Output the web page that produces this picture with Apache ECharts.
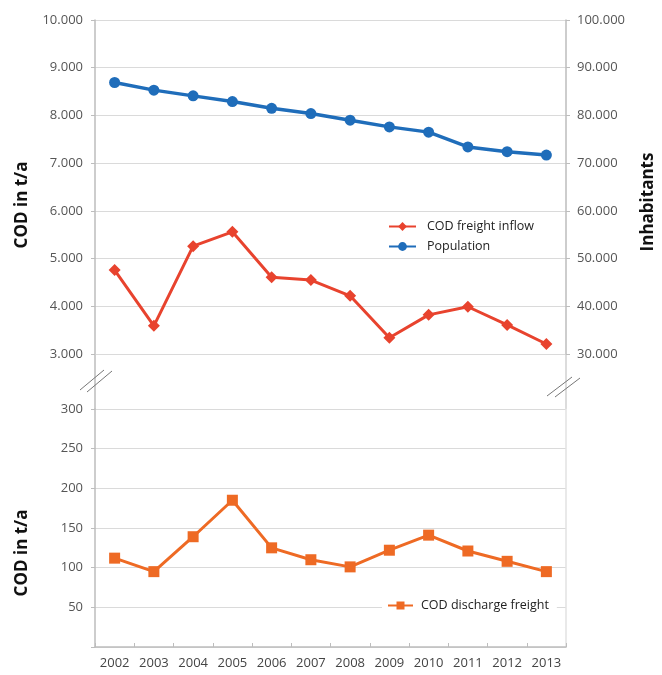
<!DOCTYPE html>
<html>
<head>
<meta charset="utf-8">
<script src="https://cdn.jsdelivr.net/npm/echarts@6/dist/echarts.min.js"></script>
<style>
html,body{margin:0;padding:0;background:#fff;}
#c{width:662px;height:675px;}
</style>
</head>
<body>
<div id="c"></div>
<script>
const years = ['2002','2003','2004','2005','2006','2007','2008','2009','2010','2011','2012','2013'];
const codInflow = [4760, 3590, 5260, 5560, 4610, 4550, 4220, 3340, 3820, 3990, 3610, 3210];
const population = [86900, 85300, 84100, 82900, 81500, 80400, 79000, 77600, 76500, 73400, 72400, 71700];
const codDischarge = [112, 95, 139, 185, 125, 110, 101, 122, 141, 121, 108, 95];
const leftTitle = 'COD in t/a';
const rightTitle = 'Inhabitants';

const FONT = '"Open Sans", "Liberation Sans", sans-serif';
const RED = '#E8432E', BLUE = '#1F6DBA', ORANGE = '#EE6A24';
const AXIS = '#bdbdbd', GRID = '#dadada', LABEL = '#555';

function fmt(v){ return String(v).replace(/\B(?=(\d{3})+(?!\d))/g, '.'); }

const chart = echarts.init(document.getElementById('c'), null, {renderer:'canvas'});

const labelStyle = {color: LABEL, fontSize: 13, fontFamily: FONT};

chart.setOption({
  backgroundColor: '#fff',
  animation: false,
  grid: [
    {left: 95, right: 96, top: 20, height: 334},
    {left: 95, right: 96, top: 409, height: 238}
  ],
  xAxis: [
    {type: 'category', gridIndex: 0, data: years, boundaryGap: true, show: false},
    {type: 'category', gridIndex: 1, data: years, boundaryGap: true,
     axisLine: {lineStyle: {color: AXIS, width: 1.5}},
     axisTick: {show: true, inside: true, length: 4, lineStyle: {color: AXIS}},
     axisLabel: Object.assign({margin: 10, color: '#444'}, {fontSize: 13, fontFamily: FONT})}
  ],
  yAxis: [
    {type: 'value', gridIndex: 0, position: 'left', min: 3000, max: 10000, interval: 1000,
     axisLine: {show: true, lineStyle: {color: AXIS, width: 1.5}},
     axisTick: {show: true, length: 4, lineStyle: {color: AXIS}},
     splitLine: {show: true, lineStyle: {color: GRID, width: 1}},
     axisLabel: Object.assign({margin: 12, formatter: fmt}, labelStyle)},
    {type: 'value', gridIndex: 0, position: 'right', min: 30000, max: 100000, interval: 10000,
     axisLine: {show: true, lineStyle: {color: AXIS, width: 1.5}},
     axisTick: {show: true, length: 4, lineStyle: {color: AXIS}},
     splitLine: {show: false},
     axisLabel: Object.assign({margin: 11, formatter: fmt}, labelStyle)},
    {type: 'value', gridIndex: 1, position: 'left', min: 0, max: 300, interval: 50,
     axisLine: {show: true, lineStyle: {color: AXIS, width: 1.5}},
     axisTick: {show: true, length: 4, lineStyle: {color: AXIS}},
     splitLine: {show: true, lineStyle: {color: GRID, width: 1}},
     axisLabel: Object.assign({margin: 12, formatter: v => v === 0 ? '' : String(v)}, labelStyle)},
    {type: 'value', gridIndex: 1, position: 'right', min: 0, max: 300, interval: 50,
     axisLine: {show: true, lineStyle: {color: '#e2e2e2', width: 1.5}},
     axisTick: {show: false}, axisLabel: {show: false}, splitLine: {show: false}}
  ],
  legend: [
    {orient: 'vertical', left: 383, top: 216, itemWidth: 27, itemHeight: 11, itemGap: 7,
     backgroundColor: '#fff', padding: [4, 8, 4, 5],
     textStyle: {color: '#222', fontSize: 12.5, fontFamily: FONT, padding: [0, 0, 0, 6]},
     data: ['COD freight inflow', 'Population']},
    {orient: 'vertical', left: 382, top: 595, itemWidth: 25, itemHeight: 10,
     backgroundColor: '#fff', padding: [4, 8, 4, 5],
     textStyle: {color: '#222', fontSize: 12.5, fontFamily: FONT, padding: [0, 0, 0, 3]},
     data: ['COD discharge freight']}
  ],
  series: [
    {name: 'COD freight inflow', type: 'line', xAxisIndex: 0, yAxisIndex: 0, data: codInflow,
     symbol: 'diamond', symbolSize: 12, color: RED,
     lineStyle: {color: RED, width: 3}, itemStyle: {color: RED}},
    {name: 'Population', type: 'line', xAxisIndex: 0, yAxisIndex: 1, data: population,
     symbol: 'circle', symbolSize: 11, color: BLUE,
     lineStyle: {color: BLUE, width: 3.5}, itemStyle: {color: BLUE}},
    {name: 'COD discharge freight', type: 'line', xAxisIndex: 1, yAxisIndex: 2, data: codDischarge,
     symbol: 'rect', symbolSize: 11, color: ORANGE,
     lineStyle: {color: ORANGE, width: 3}, itemStyle: {color: ORANGE}}
  ],
  graphic: [
    {type: 'line', shape: {x1: 95, y1: 354, x2: 95, y2: 409}, style: {stroke: AXIS, lineWidth: 1.5}, silent: true},
    {type: 'line', shape: {x1: 566, y1: 354, x2: 566, y2: 409}, style: {stroke: '#d0d0d0', lineWidth: 1.5}, silent: true},
    {type: 'line', shape: {x1: 80, y1: 390, x2: 104, y2: 370}, style: {stroke: '#777', lineWidth: 1}, silent: true},
    {type: 'line', shape: {x1: 87, y1: 392, x2: 112, y2: 371}, style: {stroke: '#777', lineWidth: 1}, silent: true},
    {type: 'line', shape: {x1: 547, y1: 396, x2: 572, y2: 377}, style: {stroke: '#777', lineWidth: 1}, silent: true},
    {type: 'line', shape: {x1: 555, y1: 397, x2: 580, y2: 378}, style: {stroke: '#777', lineWidth: 1}, silent: true},
    {type: 'text', x: 22, y: 205, rotation: Math.PI / 2,
     style: {text: leftTitle, fill: '#111', font: 'bold 17px ' + FONT, align: 'center', verticalAlign: 'middle'}},
    {type: 'text', x: 22, y: 553, rotation: Math.PI / 2,
     style: {text: leftTitle, fill: '#111', font: 'bold 17px ' + FONT, align: 'center', verticalAlign: 'middle'}},
    {type: 'text', x: 648, y: 202, rotation: Math.PI / 2,
     style: {text: rightTitle, fill: '#111', font: 'bold 17px ' + FONT, align: 'center', verticalAlign: 'middle'}}
  ]
});
</script>
</body>
</html>
